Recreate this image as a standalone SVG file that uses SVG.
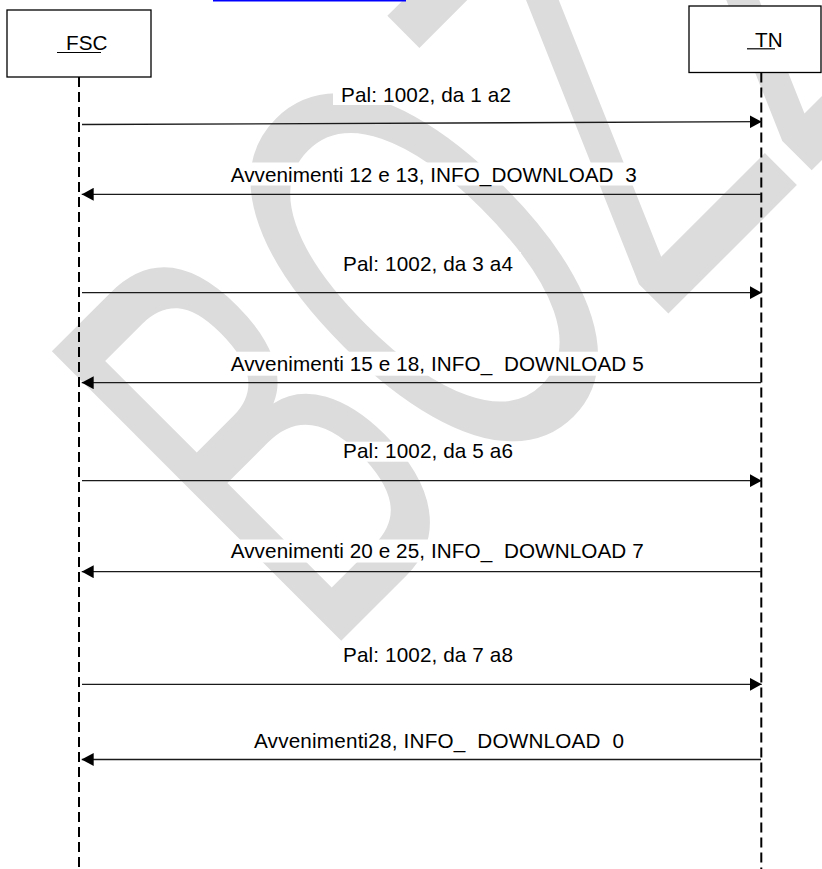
<svg xmlns="http://www.w3.org/2000/svg" width="822" height="869" viewBox="0 0 822 869">
  <defs>
    <style>
      .wm { fill: #dcdcdc; font-family: "Liberation Sans", Arial, sans-serif; }
      .box { fill: #ffffff; stroke: #000000; stroke-width: 1.3; }
      .life { stroke: #000000; stroke-width: 2; stroke-dasharray: 10 5; fill: none; }
      .lbl { font-family: "Liberation Sans", Arial, sans-serif; font-size: 20.7px; fill: #000000; }
      .bg { fill: #ffffff; }
      .msg { stroke: #1a1a1a; stroke-width: 1.3; fill: none; marker-end: url(#ah); }
      .ul { stroke: #000000; stroke-width: 1.2; }
    </style>
    <marker id="ah" markerUnits="userSpaceOnUse" markerWidth="12" markerHeight="13" refX="12" refY="6.5" orient="auto">
      <path d="M0,0 L12,6.5 L0,13 Z" fill="#000000"/>
    </marker>
  </defs>
  <rect x="0" y="0" width="822" height="869" fill="#ffffff"/>

  <!-- watermark -->
  <g id="watermark">
    <text class="wm" transform="translate(322,660) rotate(-45) scale(0.58,1.04)" font-size="572">BOZZA</text>
  </g>

  <rect x="213" y="0" width="193" height="1.5" fill="#0000ff"/>

  <g id="node-fsc">
    <rect class="box" x="7" y="10" width="144" height="67"/>
    <text class="lbl" x="66" y="50">FSC</text>
    <line class="ul" x1="57" y1="52.5" x2="101" y2="52.5"/>
    <line class="life" x1="79" y1="77" x2="79" y2="869"/>
  </g>

  <g id="node-tn">
    <rect class="box" x="689" y="6" width="132" height="66.5"/>
    <text class="lbl" x="755" y="46.7">TN</text>
    <line class="ul" x1="747" y1="48.8" x2="775" y2="48.8"/>
    <line class="life" x1="761.3" y1="72.5" x2="761.3" y2="869"/>
  </g>

  <g id="labels">
    <rect class="bg" x="333" y="83" width="186" height="22"/>
    <text class="lbl" x="341" y="101.7" textLength="170">Pal: 1002, da 1 a2</text>

    <rect class="bg" x="220" y="162.5" width="428" height="23"/>
    <text class="lbl" x="230.7" y="181.7" textLength="406" xml:space="preserve">Avvenimenti 12 e 13, INFO_DOWNLOAD  3</text>

    <rect class="bg" x="335" y="252" width="186" height="22"/>
    <text class="lbl" x="343" y="271" textLength="170">Pal: 1002, da 3 a4</text>

    <rect class="bg" x="217" y="351.7" width="438" height="24"/>
    <text class="lbl" x="230.7" y="370.5" textLength="413" xml:space="preserve">Avvenimenti 15 e 18, INFO_  DOWNLOAD 5</text>

    <rect class="bg" x="335" y="441.7" width="186" height="20"/>
    <text class="lbl" x="343" y="458.3" textLength="170">Pal: 1002, da 5 a6</text>

    <rect class="bg" x="217" y="539.5" width="438" height="23"/>
    <text class="lbl" x="230.7" y="558.3" textLength="413" xml:space="preserve">Avvenimenti 20 e 25, INFO_  DOWNLOAD 7</text>

    <rect class="bg" x="335" y="643" width="186" height="22"/>
    <text class="lbl" x="343" y="662" textLength="170">Pal: 1002, da 7 a8</text>

    <rect class="bg" x="244" y="728.5" width="390" height="23"/>
    <text class="lbl" x="254" y="747.5" textLength="370" xml:space="preserve">Avvenimenti28, INFO_  DOWNLOAD  0</text>
  </g>

  <g id="connectors">
    <line class="msg" x1="82" y1="124.5" x2="761.7" y2="121.7"/>
    <line class="msg" x1="761" y1="194.3" x2="81.7" y2="194.3"/>
    <line class="msg" x1="82" y1="292.7" x2="761.7" y2="292.7"/>
    <line class="msg" x1="761" y1="382.7" x2="81.7" y2="382.7"/>
    <line class="msg" x1="82" y1="480.7" x2="761.7" y2="480.7"/>
    <line class="msg" x1="761" y1="571.7" x2="81.7" y2="571.7"/>
    <line class="msg" x1="82" y1="684.3" x2="761.7" y2="684.3"/>
    <line class="msg" x1="761" y1="759.5" x2="81.7" y2="759.5"/>
  </g>
</svg>
